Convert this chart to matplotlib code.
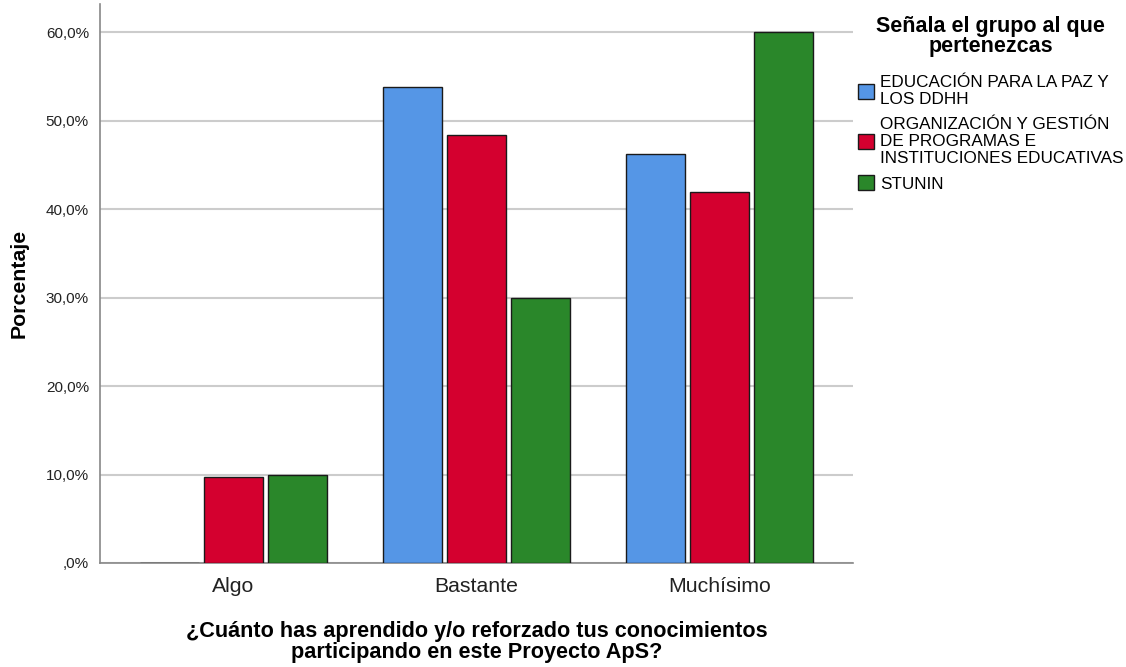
import matplotlib
matplotlib.use('Agg')
import matplotlib.pyplot as plt
from matplotlib.ticker import FuncFormatter
import numpy as np

plt.rcParams['font.family'] = ['Liberation Sans', 'DejaVu Sans']

categorias = ['Algo', 'Bastante', 'Muchísimo']
grupos = ['EDUCACIÓN PARA LA PAZ Y\nLOS DDHH',
          'ORGANIZACIÓN Y GESTIÓN\nDE PROGRAMAS E\nINSTITUCIONES EDUCATIVAS',
          'STUNIN']
paz = [0.0, 53.8, 46.2]
organizacion = [9.7, 48.4, 41.9]
stunin = [10.0, 30.0, 60.0]
colores = ['#5596E6', '#D4002F', '#2A872A']

fig = plt.figure(figsize=(11.26, 6.67), dpi=100)
ax = fig.add_axes([100/1126, 104/667, 753/1126, 559/667])

x = np.arange(len(categorias))
paso = 0.263
ancho = 0.242
for i, (vals, lab) in enumerate(zip([paz, organizacion, stunin], grupos)):
    ax.bar(x + (i - 1) * paso, vals, width=ancho, color=colores[i],
           edgecolor='#1a1a1a', linewidth=1.0, label=lab, zorder=3)

ax.set_xlim(-0.548, 2.548)
ax.set_ylim(0, 63.2)
ax.set_yticks([0, 10, 20, 30, 40, 50, 60])
ax.yaxis.set_major_formatter(FuncFormatter(
    lambda v, p: ',0%' if v == 0 else ('%.1f%%' % v).replace('.', ',')))
ax.set_xticks(x)
ax.set_xticklabels(categorias, fontsize=15.3, color='#222222')
ax.tick_params(axis='y', labelsize=11, length=0, pad=8, labelcolor='#222222')
ax.tick_params(axis='x', length=0, pad=10)
ax.yaxis.grid(True, color='#cccccc', linewidth=1.5, zorder=0)
for s in ['top', 'right']:
    ax.spines[s].set_visible(False)
for s in ['left', 'bottom']:
    ax.spines[s].set_color('#888888')
    ax.spines[s].set_linewidth(1.2)

ax.set_ylabel('Porcentaje', fontsize=15.3, fontweight='bold', labelpad=12)
ax.set_xlabel('¿Cuánto has aprendido y/o reforzado tus conocimientos\nparticipando en este Proyecto ApS?',
              fontsize=15.6, fontweight='bold', labelpad=18, linespacing=0.98)

leg = ax.legend(title='Señala el grupo al que\npertenezcas', loc='upper left',
                bbox_to_anchor=(851/1126, 658/667), bbox_transform=fig.transFigure,
                frameon=False, fontsize=12.3, handlelength=0.95, handleheight=0.95,
                handletextpad=0.35, labelspacing=0.55, borderaxespad=0,
                title_fontproperties={'weight': 'bold', 'size': 15.5})
for t in leg.get_texts():
    t.set_linespacing(1.18)
leg.get_title().set_linespacing(0.95)
leg.get_title().set_multialignment('center')
# a bit more room between the legend title and the entries
leg._legend_box.sep = 13

fig.savefig('out.png', dpi=100)
